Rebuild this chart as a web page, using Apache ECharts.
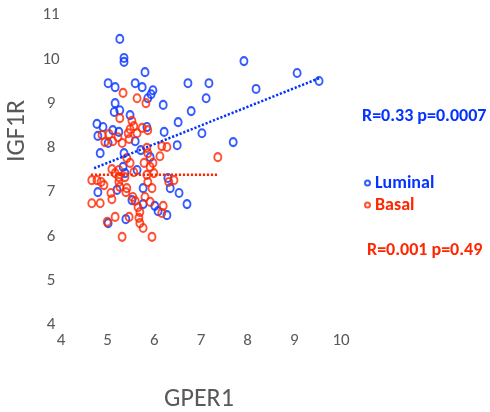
<!DOCTYPE html>
<html>
<head>
<meta charset="utf-8">
<script src="https://cdn.jsdelivr.net/npm/echarts@6/dist/echarts.min.js"></script>
<style>
html,body{margin:0;padding:0;background:#fff;}
#chart{width:490px;height:412px;}
</style>
</head>
<body>
<div id="chart"></div>
<script>
// [GPER1, IGF1R]
const luminalPoints = [
  [5.26,10.46],[5.35,10.03],[5.35,9.94],[5.80,9.71],[5.01,9.46],[5.16,9.37],[5.59,9.46],[5.74,9.37],
  [5.97,9.30],[5.93,9.21],[5.86,9.12],[6.19,8.97],[6.72,9.46],[7.17,9.46],[7.11,9.12],[6.79,8.83],
  [6.51,8.58],[6.21,8.36],[7.02,8.33],[7.69,8.13],[7.92,9.96],[8.18,9.33],[9.06,9.69],[9.53,9.51],
  [5.16,9.01],[5.14,8.81],[5.26,8.85],[5.48,8.74],[4.77,8.54],[4.90,8.47],[4.79,8.27],[5.11,8.40],
  [5.24,8.36],[5.01,8.11],[5.59,8.15],[5.84,8.47],[6.49,8.06],[4.84,7.88],[5.35,7.88],[5.71,7.95],
  [5.33,7.57],[5.37,7.43],[5.63,7.50],[4.79,7.00],[5.20,7.05],[5.76,7.09],[6.29,7.32],[6.34,7.09],
  [6.53,6.98],[6.70,6.73],[5.76,6.73],[5.52,6.82],[6.01,6.69],[6.08,6.57],[6.27,6.48],[5.39,6.39],
  [5.01,6.30],[5.91,7.79]
];
const basalPoints = [
  [5.33,9.24],[5.63,9.12],[5.82,9.01],[5.26,8.67],[5.52,8.61],[5.56,8.49],[5.48,8.42],[5.74,8.45],
  [5.86,8.40],[4.88,8.29],[5.03,8.31],[5.44,8.33],[5.63,8.33],[5.22,8.24],[5.11,8.15],[4.94,8.13],
  [5.31,8.11],[5.46,8.20],[6.16,8.04],[6.27,8.02],[5.84,8.00],[5.86,7.88],[6.12,7.81],[5.41,7.77],
  [5.48,7.66],[5.78,7.66],[5.97,7.66],[5.91,7.57],[5.99,7.43],[5.84,7.39],[5.09,7.52],[5.24,7.50],
  [5.16,7.43],[5.56,7.45],[5.24,7.34],[5.37,7.34],[4.66,7.27],[4.77,7.27],[4.86,7.23],[4.92,7.16],
  [5.24,7.23],[5.26,7.12],[5.41,7.09],[5.86,7.23],[5.95,7.09],[6.31,7.23],[6.42,7.27],[4.66,6.75],
  [4.84,6.75],[5.07,6.98],[5.09,6.84],[5.54,6.89],[5.59,6.80],[5.80,6.89],[5.91,6.78],[5.65,6.66],
  [5.69,6.55],[5.67,6.42],[5.69,6.30],[5.76,6.19],[5.16,6.44],[5.46,6.44],[4.99,6.33],[6.19,6.69],
  [6.16,6.53],[5.31,5.99],[5.95,5.99],[7.36,7.79],[5.39,7.00]
];
const luminalTrend = [[4.71,7.54],[9.55,9.58]];
const basalTrend = [[4.64,7.39],[7.36,7.39]];
const seriesNames = ['Luminal','Basal'];
const xTitle = 'GPER1';
const yTitle = 'IGF1R';
const luminalStat = 'R=0.33 p=0.0007';
const basalStat = 'R=0.001 p=0.49';

const BLUE = '#0433ff';
const RED = '#ff2600';
const FONT = 'Carlito, "Liberation Sans", Arial, sans-serif';

const chart = echarts.init(document.getElementById('chart'), null, {renderer:'canvas'});
chart.setOption({
  animation:false,
  backgroundColor:'#ffffff',
  grid:{left:61,right:149,top:15,bottom:87,containLabel:false},
  xAxis:{
    type:'value',min:4,max:10,interval:1,
    axisLine:{show:false},axisTick:{show:false},splitLine:{show:false},
    axisLabel:{color:'#595959',fontSize:17,fontFamily:FONT,margin:7}
  },
  yAxis:{
    type:'value',min:4,max:11,interval:1,
    axisLine:{show:false},axisTick:{show:false},splitLine:{show:false},
    axisLabel:{color:'#595959',fontSize:17,fontFamily:FONT,margin:10,align:'center'}
  },
  legend:{
    orient:'vertical',left:359,top:169,itemWidth:5,itemHeight:5,itemGap:4,
    data:[
      {name:seriesNames[0],icon:'circle',textStyle:{color:BLUE}},
      {name:seriesNames[1],icon:'circle',textStyle:{color:RED}}
    ],
    textStyle:{fontSize:18,fontWeight:'bold',fontFamily:FONT}
  },
  graphic:[
    {type:'text',left:362,top:107,style:{text:luminalStat,fill:BLUE,font:'bold 18px '+FONT}},
    {type:'text',left:367,top:241,style:{text:basalStat,fill:RED,font:'bold 18px '+FONT}},
    {type:'text',x:17,y:131,rotation:Math.PI/2,style:{text:yTitle,fill:'#595959',font:'26px '+FONT,align:'center',verticalAlign:'middle'}},
    {type:'text',x:199,y:399,style:{text:xTitle,fill:'#595959',font:'26px '+FONT,align:'center',verticalAlign:'middle'}}
  ],
  series:[
    {name:seriesNames[0],type:'scatter',data:luminalPoints,symbol:'circle',symbolSize:[7,8],
     itemStyle:{color:'rgba(255,255,255,0)',borderColor:BLUE,borderWidth:2},z:3},
    {name:seriesNames[1],type:'scatter',data:basalPoints,symbol:'circle',symbolSize:[7,8],
     itemStyle:{color:'rgba(255,255,255,0)',borderColor:RED,borderWidth:2},z:3},
    {name:'LuminalTrend',type:'line',data:luminalTrend,symbol:'none',silent:true,
     lineStyle:{color:BLUE,width:2.5,type:[2.2,1.8]},z:4},
    {name:'BasalTrend',type:'line',data:basalTrend,symbol:'none',silent:true,
     lineStyle:{color:RED,width:2.5,type:[2.2,1.8]},z:4}
  ]
});
</script>
</body>
</html>
